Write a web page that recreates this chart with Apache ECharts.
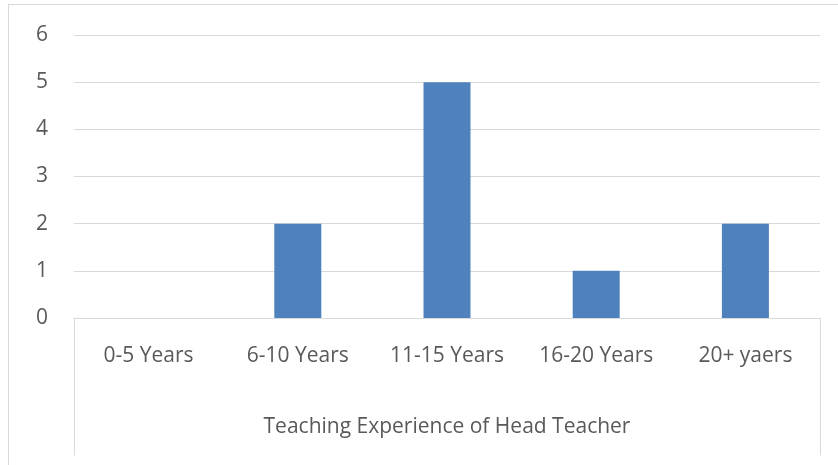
<!DOCTYPE html>
<html>
<head>
<meta charset="utf-8">
<script src="https://cdn.jsdelivr.net/npm/echarts@6/dist/echarts.min.js"></script>
<style>
  html, body { margin: 0; padding: 0; background: #fff; overflow: hidden; }
  #frame { position: absolute; left: 8px; top: 4px; width: 900px; height: 500px; border: 1px solid #d9d9d9; }
  #chart { position: absolute; left: 0; top: 0; width: 838px; height: 465px; }
</style>
</head>
<body>
<div id="frame"></div>
<div id="chart"></div>
<script>
const categories = ['0-5 Years', '6-10 Years', '11-15 Years', '16-20 Years', '20+ yaers']
const counts = [0, 2, 5, 1, 2]
const axisTitle = 'Teaching Experience of Head Teacher'
const yMin = 0
const yMax = 6
const yStep = 1

const font = 'Open Sans, Noto Sans, sans-serif'
const textColor = '#595959'
const lineColor = '#d9d9d9'

const chart = echarts.init(document.getElementById('chart'), null, { renderer: 'canvas' })

chart.setOption({
  backgroundColor: 'transparent',
  animation: false,
  grid: [
    { left: 74, right: 18, top: 35, height: 283 },
    { left: 74, right: 18, top: 318, height: 137 }
  ],
  xAxis: [
    {
      type: 'category',
      gridIndex: 0,
      data: categories,
      axisLine: { lineStyle: { color: lineColor, width: 1 } },
      axisTick: { show: false },
      axisLabel: { color: textColor, fontFamily: font, fontSize: 21, margin: 28 },
      name: axisTitle,
      nameLocation: 'middle',
      nameGap: 99,
      nameTextStyle: { color: textColor, fontFamily: font, fontSize: 21 }
    },
    {
      type: 'category',
      gridIndex: 1,
      data: categories,
      show: false
    }
  ],
  yAxis: [
    {
      type: 'value',
      gridIndex: 0,
      min: yMin,
      max: yMax,
      interval: yStep,
      axisLine: { show: false },
      axisTick: { show: false },
      axisLabel: { color: textColor, fontFamily: font, fontSize: 21, margin: 26 },
      splitLine: { lineStyle: { color: lineColor, width: 1 } }
    },
    {
      type: 'value',
      gridIndex: 1,
      position: 'left',
      axisLine: { show: true, lineStyle: { color: lineColor } },
      axisTick: { show: false },
      axisLabel: { show: false },
      splitLine: { show: false }
    },
    {
      type: 'value',
      gridIndex: 1,
      position: 'right',
      axisLine: { show: true, lineStyle: { color: lineColor } },
      axisTick: { show: false },
      axisLabel: { show: false },
      splitLine: { show: false }
    }
  ],
  series: [{
    type: 'bar',
    xAxisIndex: 0,
    yAxisIndex: 0,
    data: counts,
    barWidth: '31.5%',
    itemStyle: { color: '#4f81bd' }
  }]
})
</script>
</body>
</html>
